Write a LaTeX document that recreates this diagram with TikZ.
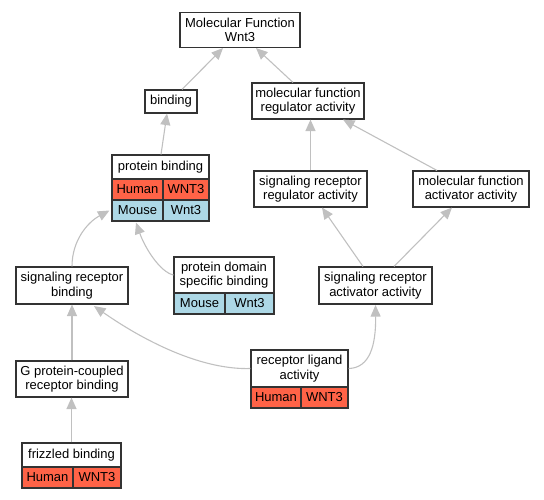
\documentclass[tikz,border=0pt]{standalone}
\usepackage{fontspec}
\setmainfont{Liberation Sans}
\usetikzlibrary{arrows.meta}
\definecolor{edgegray}{RGB}{192,192,192}
\definecolor{human}{HTML}{FF6347}
\definecolor{mouse}{HTML}{ADD8E6}
\definecolor{border}{HTML}{333333}
\begin{document}
\begin{tikzpicture}[x=1pt,y=-1pt,
  box/.style={draw=border, line width=1.1pt, fill=white, inner sep=0pt, align=center,
    font=\fontsize{13}{14.5}\selectfont},
  hcell/.style={box, fill=human},
  mcell/.style={box, fill=mouse},
  edge/.style={draw=edgegray, line width=1.1pt, -{Triangle[length=11.5pt,width=10pt]}}]
\useasboundingbox (0,0) rectangle (544,499);
% nodes
\node[box, minimum width=120, minimum height=35] (mf) at (240,30) {Molecular Function\\Wnt3};
\node[box, minimum width=52, minimum height=23] (binding) at (171,101.5) {binding};
\node[box, minimum width=112, minimum height=36] (mfra) at (308,101) {molecular function\\regulator activity};
\node[box, minimum width=97, minimum height=24] (pb) at (160.5,167) {protein binding};
\node[hcell, minimum width=51, minimum height=21] (pbH) at (137.5,189.5) {Human};
\node[hcell, minimum width=46, minimum height=21] (pbHW) at (186,189.5) {WNT3};
\node[mcell, minimum width=51, minimum height=21] (pbM) at (137.5,210.5) {Mouse};
\node[mcell, minimum width=46, minimum height=21] (pbMW) at (186,210.5) {Wnt3};
\node[box, minimum width=113, minimum height=36] (srra) at (310.5,189) {signaling receptor\\regulator activity};
\node[box, minimum width=116, minimum height=36] (mfaa) at (471,189) {molecular function\\activator activity};
\node[box, minimum width=112, minimum height=37] (srb) at (72,285.5) {signaling receptor\\binding};
\node[box, minimum width=100, minimum height=36] (pdsb) at (224,275) {protein domain\\specific binding};
\node[mcell, minimum width=51, minimum height=21] (pdsbM) at (199.5,303.5) {Mouse};
\node[mcell, minimum width=49, minimum height=21] (pdsbW) at (249.5,303.5) {Wnt3};
\node[box, minimum width=113, minimum height=37] (sraa) at (375.5,285.5) {signaling receptor\\activator activity};
\node[box, minimum width=112, minimum height=36] (gpcr) at (72,379) {G protein-coupled\\receptor binding};
\node[box, minimum width=97, minimum height=37] (rla) at (299.5,368.5) {receptor ligand\\activity};
\node[hcell, minimum width=50, minimum height=21] (rlaH) at (276,397.5) {Human};
\node[hcell, minimum width=47, minimum height=21] (rlaW) at (324.5,397.5) {WNT3};
\node[box, minimum width=99, minimum height=24] (fz) at (71.5,455) {frizzled binding};
\node[hcell, minimum width=51, minimum height=21] (fzH) at (47.5,477.5) {Human};
\node[hcell, minimum width=48, minimum height=21] (fzW) at (97,477.5) {WNT3};
% edges
\draw[edge] ([xshift=11]binding.north) -- ([xshift=-17]mf.south);
\draw[edge] ([xshift=-15]mfra.north) -- ([xshift=16]mf.south);
\draw[edge] ([xshift=0.5]pb.north) -- ([xshift=-4]binding.south);
\draw[edge] (srra.north) -- (srra.north |- mfra.south);
\draw[edge] ([xshift=-34]mfaa.north) -- ([xshift=35]mfra.south);
\draw[edge] ([xshift=-12.5]sraa.north) -- ([xshift=11.5]srra.south);
\draw[edge] ([xshift=18.5]sraa.north) -- ([xshift=-19]mfaa.south);
\draw[edge] (srb.north) .. controls (72,240) and (88,222) .. ([xshift=-2]pbM.west);
\draw[edge] (pdsb.west) .. controls (160,272) and (145,248) .. ([xshift=-1.5,yshift=-1]pbM.south);
\draw[edge] (gpcr.north) -- (srb.south);
\draw[edge] (fz.north) -- (fz.north |- gpcr.south);
\draw[edge] (rla.west) .. controls (205,370) and (150,345) .. ([xshift=22,yshift=-1.5]srb.south);
\draw[edge] (rla.east) .. controls (370,368) and (376,345) .. ([yshift=-0.5]sraa.south);
\end{tikzpicture}
\end{document}
